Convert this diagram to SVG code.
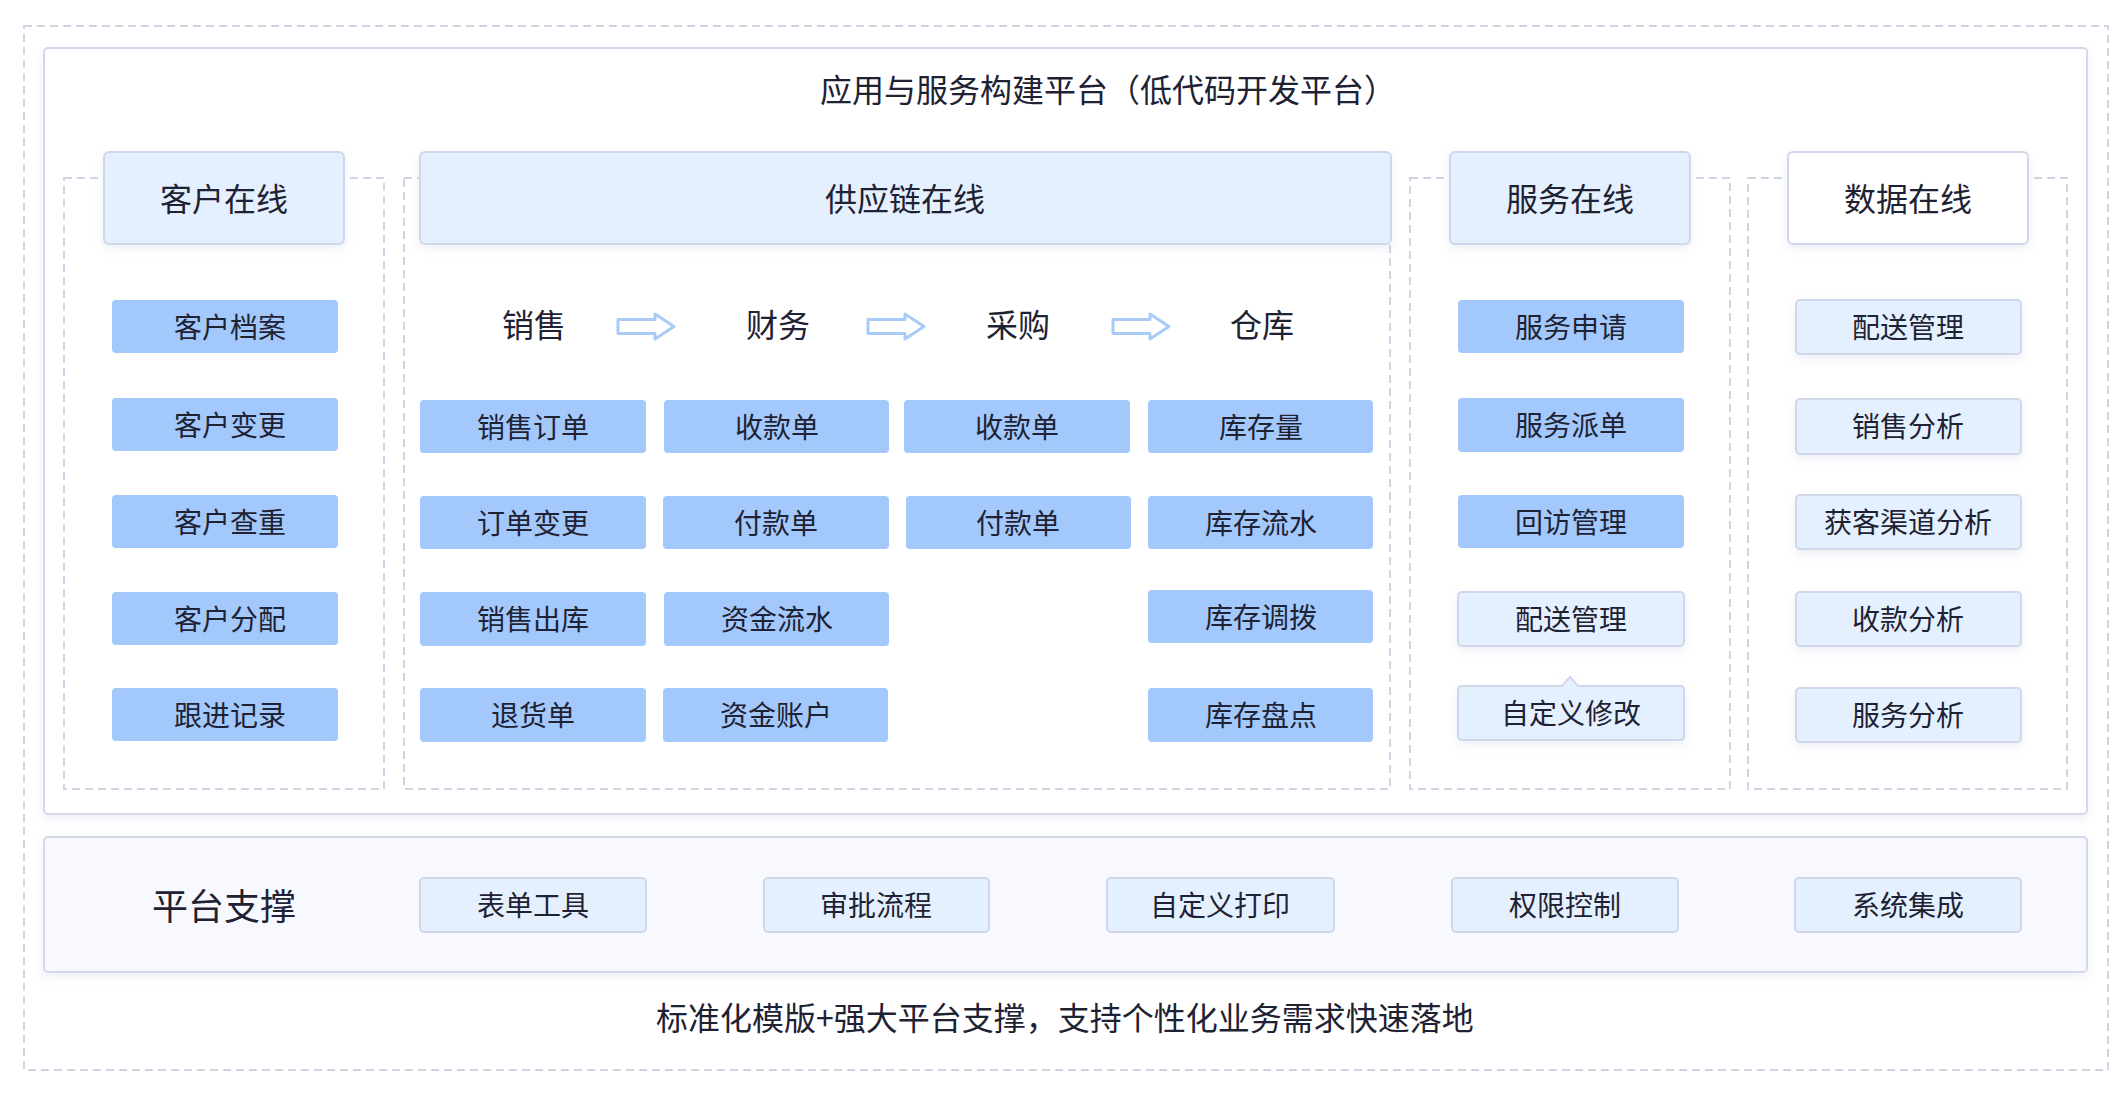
<svg xmlns="http://www.w3.org/2000/svg" width="2128" height="1096" viewBox="0 0 2128 1096">
<defs>
<style>
.dash{fill:none;stroke:#d0d5e3;stroke-width:2;stroke-dasharray:8 5}
.frame{fill:#ffffff;stroke:#d3d8ea;stroke-width:2}
.plat{fill:#f7f9fe;stroke:#d3d8ea;stroke-width:2}
.hdr{fill:#e5f0fe;stroke:#d0d7ea;stroke-width:2}
.hdrw{fill:#ffffff;stroke:#d0d7ea;stroke-width:2}
.blue{fill:#a3c9fc}
.light{fill:#e5f0fe;stroke:#d0d7ea;stroke-width:2}
.arr{fill:#ffffff;stroke:#a8cbf8;stroke-width:3;stroke-linejoin:round}
text{font-family:"Noto Sans CJK SC","Noto Sans",sans-serif;fill:#1e2233;text-anchor:middle;dominant-baseline:central}
.t-item{font-size:28px}
.t-hdr{font-size:32px}
.t-proc{font-size:32px}
.t-title{font-size:32px}
.t-plat{font-size:36px}
</style>
<filter id="sh" x="-20%" y="-30%" width="140%" height="170%">
<feDropShadow dx="0" dy="4" stdDeviation="5" flood-color="#7f8fc0" flood-opacity="0.14"/>
</filter>
</defs>
<rect width="2128" height="1096" fill="#ffffff"/>

<g id="outer">
<rect class="dash" x="24" y="26" width="2084" height="1044"/>
</g>

<g id="app-platform">
<rect class="frame" x="44" y="48" width="2043" height="766" rx="4" filter="url(#sh)"/>
<text class="t-title" x="1108" y="88">应用与服务构建平台（低代码开发平台）</text>
</g>

<g id="columns">
<rect class="dash" x="64" y="178" width="320" height="611"/>
<rect class="dash" x="404" y="178" width="986" height="611"/>
<rect class="dash" x="1410" y="178" width="320" height="611"/>
<rect class="dash" x="1748" y="178" width="319" height="611"/>
</g>

<g id="hdr-customer">
<rect class="hdr" x="104" y="152" width="240" height="92" rx="5" filter="url(#sh)"/>
<text class="t-hdr" x="224" y="197">客户在线</text>
</g>
<g id="hdr-supply">
<rect class="hdr" x="420" y="152" width="971" height="92" rx="5" filter="url(#sh)"/>
<text class="t-hdr" x="905" y="197">供应链在线</text>
</g>
<g id="hdr-service">
<rect class="hdr" x="1450" y="152" width="240" height="92" rx="5" filter="url(#sh)"/>
<text class="t-hdr" x="1570" y="197">服务在线</text>
</g>
<g id="hdr-data">
<rect class="hdrw" x="1788" y="152" width="240" height="92" rx="5" filter="url(#sh)"/>
<text class="t-hdr" x="1908" y="197">数据在线</text>
</g>

<!-- customer items -->
<g id="c1"><rect class="blue" x="112" y="300" width="226" height="53" rx="4"/><text class="t-item" x="230" y="326">客户档案</text></g>
<g id="c2"><rect class="blue" x="112" y="398" width="226" height="53" rx="4"/><text class="t-item" x="230" y="424">客户变更</text></g>
<g id="c3"><rect class="blue" x="112" y="495" width="226" height="53" rx="4"/><text class="t-item" x="230" y="521">客户查重</text></g>
<g id="c4"><rect class="blue" x="112" y="592" width="226" height="53" rx="4"/><text class="t-item" x="230" y="618">客户分配</text></g>
<g id="c5"><rect class="blue" x="112" y="688" width="226" height="53" rx="4"/><text class="t-item" x="230" y="714">跟进记录</text></g>

<!-- process labels -->
<g id="p-sales"><text class="t-proc" x="534" y="323">销售</text></g>
<g id="p-finance"><text class="t-proc" x="778" y="323">财务</text></g>
<g id="p-purchase"><text class="t-proc" x="1018" y="323">采购</text></g>
<g id="p-warehouse"><text class="t-proc" x="1262" y="323">仓库</text></g>

<g id="connectors">
<path class="arr" d="M618,319.5 H655 V314 L674,326.5 L655,339 V333.5 H618 Z"/>
<path class="arr" d="M868,319.5 H905 V314 L924,326.5 L905,339 V333.5 H868 Z"/>
<path class="arr" d="M1113,319.5 H1150 V314 L1169,326.5 L1150,339 V333.5 H1113 Z"/>
</g>

<!-- supply chain items -->
<g id="s11"><rect class="blue" x="420" y="400" width="226" height="53" rx="4"/><text class="t-item" x="533" y="426">销售订单</text></g>
<g id="s12"><rect class="blue" x="664" y="400" width="225" height="53" rx="4"/><text class="t-item" x="777" y="426">收款单</text></g>
<g id="s13"><rect class="blue" x="904" y="400" width="226" height="53" rx="4"/><text class="t-item" x="1017" y="426">收款单</text></g>
<g id="s14"><rect class="blue" x="1148" y="400" width="225" height="53" rx="4"/><text class="t-item" x="1261" y="426">库存量</text></g>

<g id="s21"><rect class="blue" x="420" y="496" width="226" height="53" rx="4"/><text class="t-item" x="533" y="522">订单变更</text></g>
<g id="s22"><rect class="blue" x="663" y="496" width="226" height="53" rx="4"/><text class="t-item" x="776" y="522">付款单</text></g>
<g id="s23"><rect class="blue" x="906" y="496" width="225" height="53" rx="4"/><text class="t-item" x="1018" y="522">付款单</text></g>
<g id="s24"><rect class="blue" x="1148" y="496" width="225" height="53" rx="4"/><text class="t-item" x="1261" y="522">库存流水</text></g>

<g id="s31"><rect class="blue" x="420" y="592" width="226" height="54" rx="4"/><text class="t-item" x="533" y="618">销售出库</text></g>
<g id="s32"><rect class="blue" x="664" y="592" width="225" height="54" rx="4"/><text class="t-item" x="777" y="618">资金流水</text></g>
<g id="s34"><rect class="blue" x="1148" y="590" width="225" height="53" rx="4"/><text class="t-item" x="1261" y="616">库存调拨</text></g>

<g id="s41"><rect class="blue" x="420" y="688" width="226" height="54" rx="4"/><text class="t-item" x="533" y="714">退货单</text></g>
<g id="s42"><rect class="blue" x="663" y="688" width="225" height="54" rx="4"/><text class="t-item" x="776" y="714">资金账户</text></g>
<g id="s44"><rect class="blue" x="1148" y="688" width="225" height="54" rx="4"/><text class="t-item" x="1261" y="714">库存盘点</text></g>

<!-- service items -->
<g id="v1"><rect class="blue" x="1458" y="300" width="226" height="53" rx="4"/><text class="t-item" x="1571" y="326">服务申请</text></g>
<g id="v2"><rect class="blue" x="1458" y="398" width="226" height="54" rx="4"/><text class="t-item" x="1571" y="424">服务派单</text></g>
<g id="v3"><rect class="blue" x="1458" y="495" width="226" height="53" rx="4"/><text class="t-item" x="1571" y="521">回访管理</text></g>
<g id="v4"><rect class="light" x="1458" y="592" width="226" height="54" rx="4" filter="url(#sh)"/><text class="t-item" x="1571" y="618">配送管理</text></g>
<g id="v5"><path class="light" filter="url(#sh)" d="M1462,686 H1562 L1570,677 L1578,686 H1680 Q1684,686 1684,690 V736 Q1684,740 1680,740 H1462 Q1458,740 1458,736 V690 Q1458,686 1462,686 Z"/><text class="t-item" x="1571" y="712">自定义修改</text></g>

<!-- data items -->
<g id="d1"><rect class="light" x="1796" y="300" width="225" height="54" rx="4" filter="url(#sh)"/><text class="t-item" x="1908" y="326">配送管理</text></g>
<g id="d2"><rect class="light" x="1796" y="399" width="225" height="55" rx="4" filter="url(#sh)"/><text class="t-item" x="1908" y="425">销售分析</text></g>
<g id="d3"><rect class="light" x="1796" y="495" width="225" height="54" rx="4" filter="url(#sh)"/><text class="t-item" x="1908" y="521">获客渠道分析</text></g>
<g id="d4"><rect class="light" x="1796" y="592" width="225" height="54" rx="4" filter="url(#sh)"/><text class="t-item" x="1908" y="618">收款分析</text></g>
<g id="d5"><rect class="light" x="1796" y="688" width="225" height="54" rx="4" filter="url(#sh)"/><text class="t-item" x="1908" y="714">服务分析</text></g>

<!-- platform support -->
<g id="platform">
<rect class="plat" x="44" y="837" width="2043" height="135" rx="4" filter="url(#sh)"/>
<text class="t-plat" x="224" y="904">平台支撑</text>
</g>
<g id="pl1"><rect class="light" x="420" y="878" width="226" height="54" rx="4"/><text class="t-item" x="533" y="904">表单工具</text></g>
<g id="pl2"><rect class="light" x="764" y="878" width="225" height="54" rx="4"/><text class="t-item" x="876" y="904">审批流程</text></g>
<g id="pl3"><rect class="light" x="1107" y="878" width="227" height="54" rx="4"/><text class="t-item" x="1220" y="904">自定义打印</text></g>
<g id="pl4"><rect class="light" x="1452" y="878" width="226" height="54" rx="4"/><text class="t-item" x="1565" y="904">权限控制</text></g>
<g id="pl5"><rect class="light" x="1795" y="878" width="226" height="54" rx="4"/><text class="t-item" x="1908" y="904">系统集成</text></g>

<g id="footer">
<text class="t-title" x="1065" y="1016">标准化模版+强大平台支撑，支持个性化业务需求快速落地</text>
</g>
</svg>
